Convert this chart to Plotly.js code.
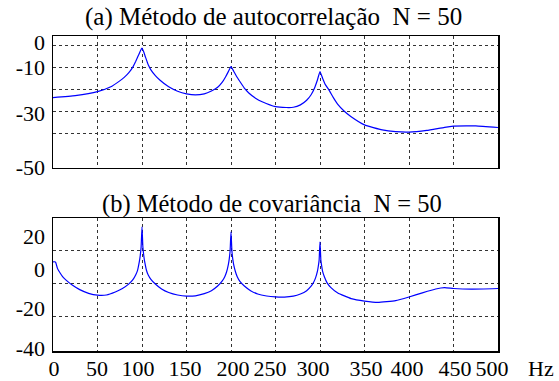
<!DOCTYPE html>
<html>
<head>
<meta charset="utf-8">
<script src="https://cdn.plot.ly/plotly-3.0.1.min.js"></script>
<style>html,body{margin:0;padding:0;background:#fff;}#chart{width:559px;height:381px;}</style>
</head>
<body>
<div id="chart"></div>
<script>
// (a) autocorrelation method, N = 50 : frequency (Hz) and PSD (dB)
const freqA = [0, 25, 50, 65, 75, 80, 85, 90, 93, 96, 98, 100, 102, 104, 107, 110, 115, 120, 130, 140, 150, 160, 170, 178, 185, 190, 194, 197, 200, 203, 206, 210, 215, 220, 228, 235, 250, 262, 270, 278, 285, 290, 294, 297, 300, 303, 306, 310, 315, 320, 327, 335, 350, 370, 385, 400, 420, 440, 450, 475, 500];
const psdA  = [-23.5, -22.6, -20.8, -18.6, -15.9, -14.3, -12.3, -9.4, -7.0, -4.3, -2.4, -1.0, -2.8, -5.2, -8.6, -10.9, -13.5, -15.5, -18.6, -20.6, -21.8, -22.3, -21.8, -20.5, -18.8, -16.6, -14.0, -11.7, -9.4, -11.5, -13.7, -16.2, -19.2, -21.4, -23.9, -25.4, -27.6, -28.0, -27.9, -26.8, -24.7, -22.2, -19.0, -15.6, -11.7, -14.8, -17.6, -20.0, -23.5, -26.6, -29.6, -32.2, -35.9, -38.2, -39.0, -39.2, -38.4, -37.0, -36.5, -36.4, -37.1];

// (b) covariance method, N = 50
const freqB = [0, 2, 3, 5, 8, 11, 15, 22, 30, 40, 50, 60, 70, 78, 85, 90, 93, 95, 97, 98, 99, 100, 101, 102, 103, 105, 107, 110, 115, 122, 130, 140, 150, 160, 170, 178, 185, 190, 193, 195, 197, 198, 199, 200, 201, 202, 203, 205, 207, 210, 215, 222, 230, 240, 250, 260, 270, 278, 285, 290, 293, 295, 297, 298, 299, 300, 301, 302, 303, 305, 308, 312, 320, 335, 350, 365, 385, 400, 415, 430, 440, 450, 470, 500];
const psdB  = [3.1, 3.2, 2.8, -0.8, -3.6, -5.9, -8.0, -11.0, -13.6, -15.8, -16.9, -16.8, -15.0, -12.9, -10.3, -7.4, -4.6, -2.0, 3.2, 6.8, 12.0, 24.2, 12.0, 6.8, 3.2, -1.9, -4.8, -7.4, -10.2, -13.2, -15.3, -16.8, -17.5, -17.3, -16.0, -14.2, -11.4, -8.5, -5.8, -3.0, 1.5, 4.8, 9.8, 21.2, 9.8, 4.8, 1.5, -2.8, -5.8, -8.6, -11.4, -14.2, -16.2, -17.4, -18.0, -18.1, -17.5, -16.2, -14.2, -11.5, -9.0, -6.5, -2.8, 0.2, 4.0, 15.2, 4.0, 0.2, -2.8, -6.0, -9.5, -12.2, -15.6, -19.0, -20.5, -21.3, -20.2, -18.0, -15.5, -13.2, -12.4, -12.9, -13.3, -12.9];

// axis grids and labels
const gridX = [0, 50, 100, 150, 200, 250, 300, 350, 400, 450, 500];
const xLabelPos = [1.1, 49.4, 95.5, 148.3, 202.2, 243.8, 292.1, 351.7, 397.8, 451.7, 493.3];
const xLabels = ['0', '50', '100', '150', '200', '250', '300', '350', '400', '450', '500'];
const gridYA = [0, -10, -20, -30, -40];
const yLabelPosA = [1.6, -9.7, -30.6, -55.1];
const yLabelsA = ['0', '-10', '-30', '-50'];
const gridYB = [10, -10, -30];
const yLabelPosB = [18.7, -1.3, -24.9, -49.0];
const yLabelsB = ['20', '0', '-20', '-40'];
const titleA = '(a) Método de autocorrelação\u00a0\u00a0N = 50';
const titleB = '(b) Método de covariância\u00a0\u00a0N = 50';
const unitX = 'Hz';

const FONT = 'Liberation Serif';
const lineStyle = {color: '#0000ff', width: 1.2, shape: 'spline', smoothing: 0.4};

const traces = [
  {x: freqA, y: psdA, xaxis: 'x', yaxis: 'y', type: 'scatter', mode: 'lines', line: lineStyle, hoverinfo: 'skip', showlegend: false},
  {x: freqB, y: psdB, xaxis: 'x2', yaxis: 'y2', type: 'scatter', mode: 'lines', line: lineStyle, hoverinfo: 'skip', showlegend: false},
  {x: [null], y: [null], xaxis: 'x', yaxis: 'y3', type: 'scatter', mode: 'lines', hoverinfo: 'skip', showlegend: false},
  {x: [null], y: [null], xaxis: 'x3', yaxis: 'y4', type: 'scatter', mode: 'lines', hoverinfo: 'skip', showlegend: false}
];

const gridCommon = {
  showgrid: true, gridcolor: '#333', griddash: 'dot', gridwidth: 1,
  zeroline: false, showline: true, mirror: true, linecolor: '#000', linewidth: 1.5,
  ticks: '', showticklabels: false, tickmode: 'array'
};
const labelCommon = {
  showgrid: false, zeroline: false, showline: false, ticks: '', tickmode: 'array',
  tickfont: {family: FONT, size: 22, color: '#000'}
};

const layout = {
  width: 559, height: 381,
  margin: {l: 53, r: 61, t: 36, b: 30, pad: 0},
  paper_bgcolor: '#fff', plot_bgcolor: '#fff',
  font: {family: FONT, color: '#000'},
  xaxis: Object.assign({}, gridCommon, {anchor: 'y', domain: [0, 1], range: [0, 500], tickvals: gridX}),
  yaxis: Object.assign({}, gridCommon, {anchor: 'x', domain: [0.581, 1], range: [-55.5, 4.5], tickvals: gridYA}),
  yaxis3: Object.assign({}, labelCommon, {overlaying: 'y', anchor: 'x', side: 'left', range: [-55.5, 4.5], tickvals: yLabelPosA, ticktext: yLabelsA, ticklabelstandoff: 7}),
  xaxis2: Object.assign({}, gridCommon, {anchor: 'y2', domain: [0, 1], range: [0, 500], tickvals: gridX}),
  yaxis2: Object.assign({}, gridCommon, {anchor: 'x2', domain: [0, 0.4222], range: [-50.5, 29.5], tickvals: gridYB}),
  xaxis3: Object.assign({}, labelCommon, {overlaying: 'x2', anchor: 'y2', side: 'bottom', range: [0, 500], tickvals: xLabelPos, ticktext: xLabels, ticklabelstandoff: 2}),
  yaxis4: Object.assign({}, labelCommon, {overlaying: 'y2', anchor: 'x2', side: 'left', range: [-50.5, 29.5], tickvals: yLabelPosB, ticktext: yLabelsB, ticklabelstandoff: 7}),
  annotations: [
    {text: titleA, xref: 'paper', yref: 'paper', x: 0.4966, y: 1.0603, xanchor: 'center', yanchor: 'middle', showarrow: false, font: {family: FONT, size: 25, color: '#000'}},
    {text: titleB, xref: 'paper', yref: 'paper', x: 0.492, y: 0.4667, xanchor: 'center', yanchor: 'middle', showarrow: false, font: {family: FONT, size: 24.5, color: '#000'}},
    {text: unitX, xref: 'paper', yref: 'paper', x: 1.0966, y: -0.054, xanchor: 'center', yanchor: 'middle', showarrow: false, font: {family: FONT, size: 22, color: '#000'}}
  ]
};

Plotly.newPlot('chart', traces, layout, {staticPlot: true, displayModeBar: false});
</script>
</body>
</html>
